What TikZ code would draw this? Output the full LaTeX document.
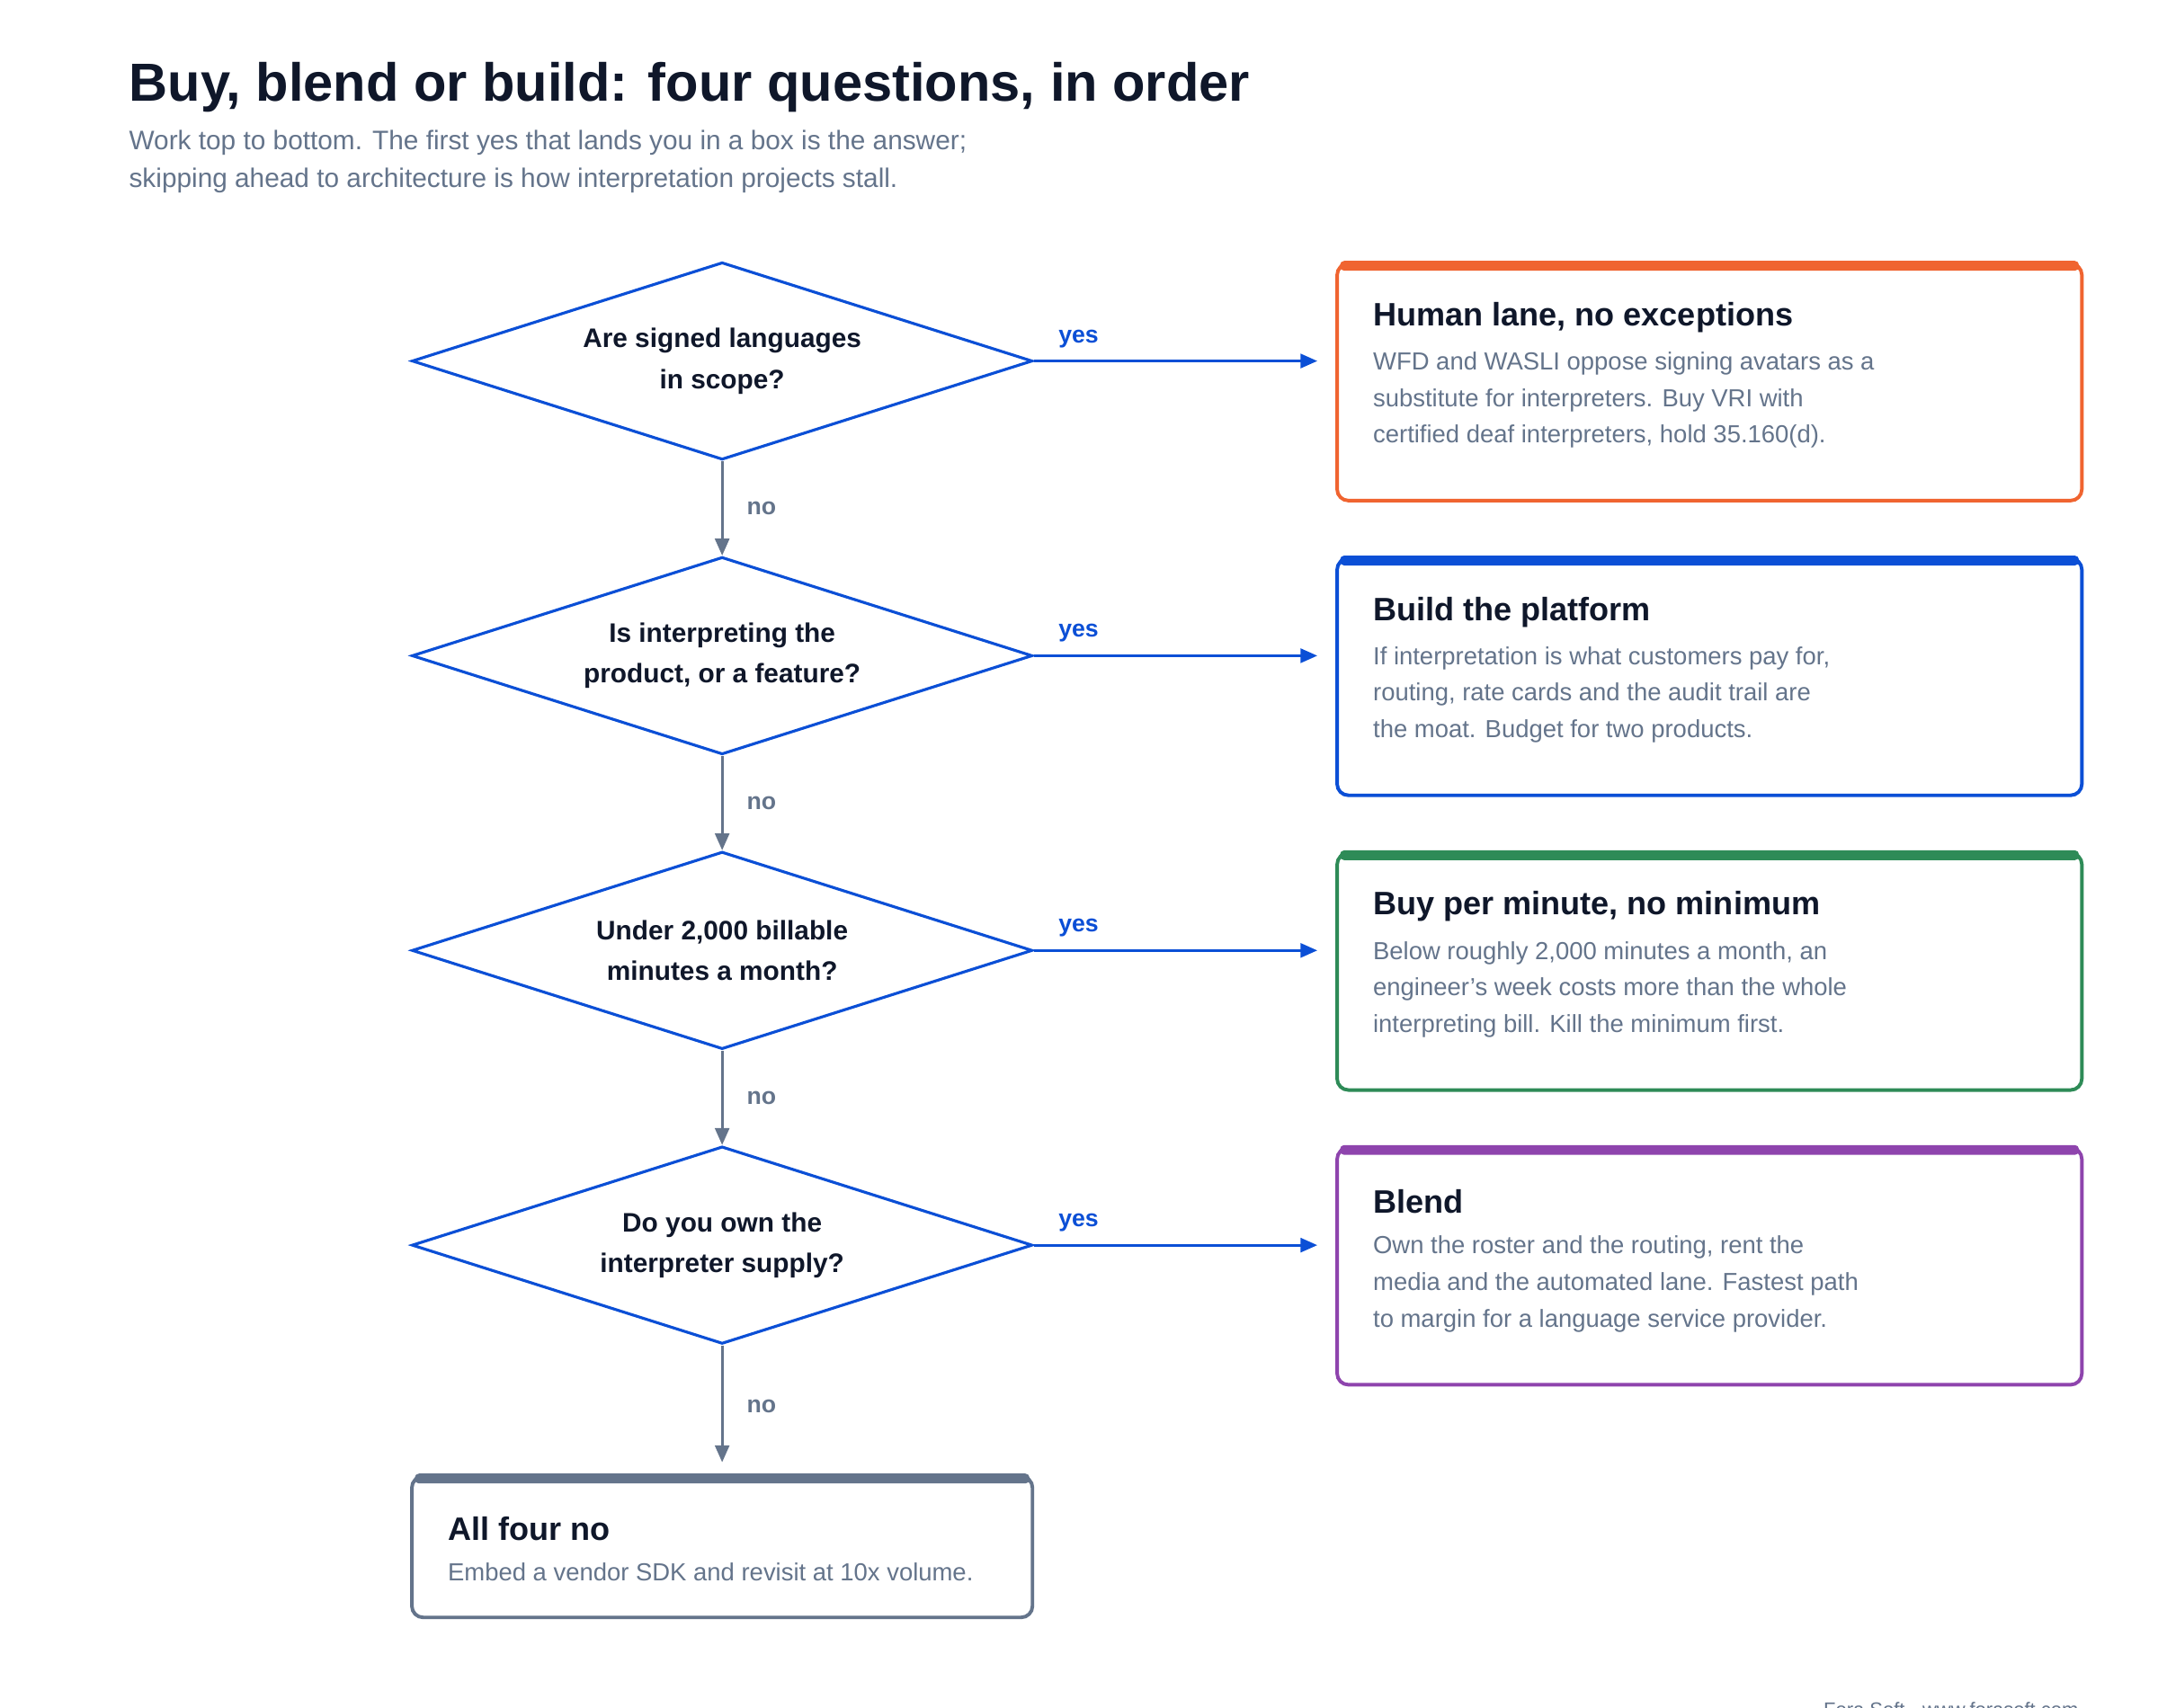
\documentclass[tikz,border=0pt]{standalone}
\usepackage{fontspec}
\setmainfont{Liberation Sans}
\usetikzlibrary{shapes.geometric,arrows.meta,positioning,calc}
\definecolor{ink}{HTML}{0F172A}
\definecolor{slate}{HTML}{64748B}
\definecolor{qblue}{HTML}{0B4FD6}
\definecolor{corange}{HTML}{F06430}
\definecolor{cgreen}{HTML}{2E8B57}
\definecolor{cpurple}{HTML}{8E44AD}
\begin{document}
\begin{tikzpicture}[x=1pt,y=-1pt,
    question/.style={draw=qblue, line width=2pt, diamond, aspect=3.14,
      minimum width=440pt, minimum height=140pt, inner sep=0pt,
      align=center, font=\fontsize{19}{29}\selectfont\bfseries, text=ink},
    yesarrow/.style={draw=qblue, line width=2pt, -{Triangle[length=12pt,width=10pt]}},
    noarrow/.style={draw=slate, line width=2pt, -{Triangle[length=12pt,width=10pt]}},
    yeslabel/.style={font=\fontsize{17}{20}\selectfont\bfseries, text=qblue},
    nolabel/.style={font=\fontsize{17}{20}\selectfont\bfseries, text=slate},
    boxtitle/.style={anchor=west, font=\fontsize{23}{28}\selectfont\bfseries, text=ink},
    boxbody/.style={anchor=north west, align=left, font=\fontsize{17.5}{26}\selectfont, text=slate}
  ]
  \useasboundingbox[fill=white] (0,0) rectangle (1530,1211);

  % Title
  \node[anchor=west, font=\fontsize{38}{44}\selectfont\bfseries, text=ink] (title) at (88,62)
    {Buy, blend or build: four questions, in order};
  \node[anchor=north west, align=left, font=\fontsize{19}{26.5}\selectfont, text=slate] (sub) at (88,89)
    {Work top to bottom. The first yes that lands you in a box is the answer;\\
     skipping ahead to architecture is how interpretation projects stall.};

  % Questions
  \node[question] (q1) at (512,256) {Are signed languages\\in scope?};
  \node[question] (q2) at (512,465) {Is interpreting the\\product, or a feature?};
  \node[question] (q3) at (512,674) {Under 2,000 billable\\minutes a month?};
  \node[question] (q4) at (512,883) {Do you own the\\interpreter supply?};

  % Answer boxes
  \foreach \name/\col/\ty in {a1/corange/187, a2/qblue/396, a3/cgreen/605, a4/cpurple/814} {
    \draw[\col, line width=2.5pt, rounded corners=8pt] (948,\ty) rectangle (1476,\ty+168);
    \fill[\col, rounded corners=3pt] (950,\ty-2) rectangle (1474,\ty+5);
    \coordinate (\name) at (934,\ty+69);
  }
  \draw[slate, line width=2.5pt, rounded corners=8pt] (292,1047) rectangle (732,1147);
  \fill[slate, rounded corners=3pt] (294,1045) rectangle (730,1052);
  \coordinate (a5) at (512,1037);

  \node[boxtitle] (t1) at (970,225) {Human lane, no exceptions};
  \node[boxbody] (b1) at (970,246) {WFD and WASLI oppose signing avatars as a\\substitute for interpreters. Buy VRI with\\certified deaf interpreters, hold 35.160(d).};
  \node[boxtitle] (t2) at (970,434) {Build the platform};
  \node[boxbody] (b2) at (970,455) {If interpretation is what customers pay for,\\routing, rate cards and the audit trail are\\the moat. Budget for two products.};
  \node[boxtitle] (t3) at (970,643) {Buy per minute, no minimum};
  \node[boxbody] (b3) at (970,664) {Below roughly 2,000 minutes a month, an\\engineer's week costs more than the whole\\interpreting bill. Kill the minimum first.};
  \node[boxtitle] (t4) at (970,852) {Blend};
  \node[boxbody] (b4) at (970,873) {Own the roster and the routing, rent the\\media and the automated lane. Fastest path\\to margin for a language service provider.};
  \node[boxtitle] (t5) at (314,1084) {All four no};
  \node[boxbody] (b5) at (314,1105) {Embed a vendor SDK and revisit at 10x volume.};

  % Connectors
  \foreach \q/\a in {q1/a1, q2/a2, q3/a3, q4/a4} {
    \draw[yesarrow] (\q.east) -- (\q.east -| \a);
    \node[yeslabel, anchor=south west] at ([xshift=14pt,yshift=6pt]\q.east) {yes};
  }
  \foreach \q/\n in {q1/q2, q2/q3, q3/q4} {
    \draw[noarrow] (\q.south) -- (\n.north);
    \node[nolabel, anchor=west] at ([xshift=14pt]$(\q.south)!0.5!(\n.north)$) {no};
  }
  \draw[noarrow] (q4.south) -- (a5);
  \node[nolabel, anchor=west] at (526,997) {no};

  % Footer
  \node[anchor=east, font=\fontsize{14}{16}\selectfont, text=slate] (foot) at (1477,1212)
    {Fora Soft · www.forasoft.com};
\end{tikzpicture}
\end{document}
